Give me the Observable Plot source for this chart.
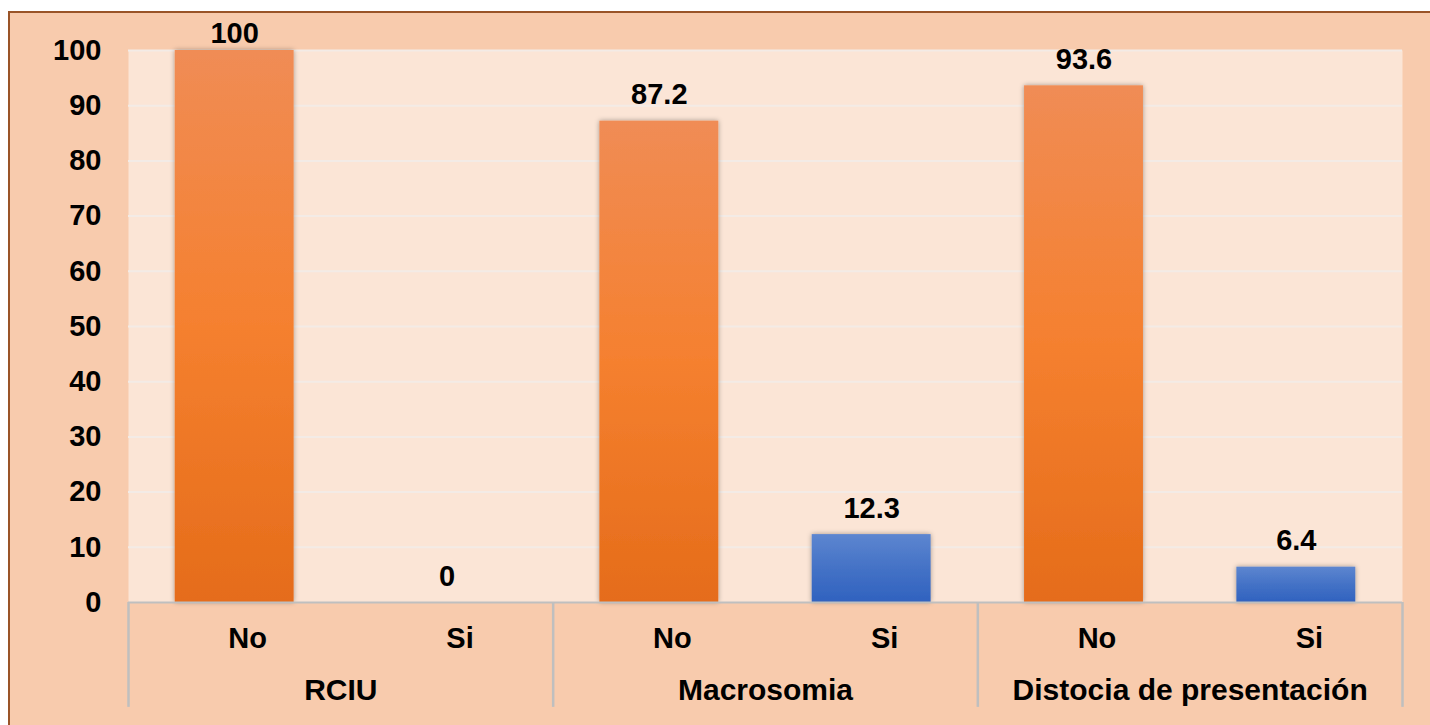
<!DOCTYPE html>
<html>
<head>
<meta charset="utf-8">
<script src="https://cdn.jsdelivr.net/npm/d3@7"></script>
<script src="https://cdn.jsdelivr.net/npm/@observablehq/plot@0.6"></script>
<style>
  html, body { margin: 0; padding: 0; background: #ffffff; width: 1430px; height: 725px; overflow: hidden; }
  #box { position: absolute; left: 8px; top: 11px; width: 1440px; height: 740px; background: #f8cbad; border-top: 2px solid #9a5428; border-left: 2px solid #9a5428; box-sizing: border-box; }
  #chart { position: absolute; left: 0; top: 0; }
</style>
</head>
<body>
<div id="box"></div>
<div id="chart"></div>
<script>
// ---- data ----
const groups = ["RCIU", "Macrosomia", "Distocia de presentación"];
const subs = ["No", "Si"];
const noValues = [100, 87.2, 93.6];
const siValues = [0, 12.3, 6.4];
const yTicks = [0, 10, 20, 30, 40, 50, 60, 70, 80, 90, 100];

const rows = [];
groups.forEach((g, gi) => {
  subs.forEach((s, si) => {
    rows.push({group: g, sub: s, value: si === 0 ? noValues[gi] : siValues[gi], pos: gi * subs.length + si});
  });
});
const noRows = rows.filter(d => d.sub === "No");
const siRows = rows.filter(d => d.sub === "Si");
const boundaries = d3.range(0, rows.length + 1, subs.length);
const font = "'Liberation Sans', Arial, sans-serif";

const plot = Plot.plot({
  width: 1430,
  height: 725,
  marginLeft: 128,
  marginRight: 28,
  marginTop: 50,
  marginBottom: 123,
  style: {background: "transparent", fontFamily: font, fontSize: "29px", fontWeight: "bold", color: "#000"},
  x: {type: "linear", domain: [0, rows.length], axis: null},
  y: {domain: [0, 100], axis: null},
  marks: [
    Plot.frame({fill: "#fbe5d6", stroke: null}),
    Plot.ruleY(yTicks.filter(t => t > 0), {stroke: "#f3ebe6", strokeWidth: 2}),
    Plot.rectY(noRows, {x1: d => d.pos + 0.22, x2: d => d.pos + 0.78, y1: 0, y2: "value", fill: "url(#gNo)"}),
    Plot.rectY(siRows, {x1: d => d.pos + 0.22, x2: d => d.pos + 0.78, y1: 0, y2: "value", fill: "url(#gSi)"}),
    Plot.ruleY([0], {stroke: "#bfbfbf", strokeWidth: 2}),
    Plot.ruleX(boundaries, {x: d => d, y1: 0, y2: -19, stroke: "#bfbfbf", strokeWidth: 2.5}),
    Plot.axisY({ticks: yTicks, tickSize: 0, tickPadding: 27, fontSize: 29, fontWeight: "bold", label: null, tickFormat: d => String(d)}),
    Plot.text(rows.filter(d => d.value < 97), {x: d => d.pos + 0.5, y: "value", text: d => String(d.value), dy: -26, fill: "#000"}),
    Plot.text(rows.filter(d => d.value >= 97), {x: d => d.pos + 0.5, y: "value", text: d => String(d.value), dy: -17, fill: "#000"}),
    Plot.text(rows, {x: d => d.pos + 0.5, y: 0, text: "sub", dx: 13, dy: 36, fill: "#000"}),
    Plot.text(groups, {x: (d, i) => i * subs.length + subs.length / 2, y: 0, text: d => d, dy: 88, fill: "#000", fontSize: 30})
  ]
});

// gradients and shadow
const svg = d3.select(plot);
const defs = svg.insert("defs", ":first-child");
const gNo = defs.append("linearGradient").attr("id", "gNo").attr("x1", 0).attr("y1", 0).attr("x2", 0).attr("y2", 1);
gNo.append("stop").attr("offset", "0%").attr("stop-color", "#f08c55");
gNo.append("stop").attr("offset", "50%").attr("stop-color", "#f5802f");
gNo.append("stop").attr("offset", "100%").attr("stop-color", "#e56c1a");
const gSi = defs.append("linearGradient").attr("id", "gSi").attr("x1", 0).attr("y1", 0).attr("x2", 0).attr("y2", 1);
gSi.append("stop").attr("offset", "0%").attr("stop-color", "#5d86d0");
gSi.append("stop").attr("offset", "50%").attr("stop-color", "#4472c6");
gSi.append("stop").attr("offset", "100%").attr("stop-color", "#3062bf");
const f = defs.append("filter").attr("id", "sh").attr("x", "-20%").attr("y", "-20%").attr("width", "140%").attr("height", "140%");
f.append("feDropShadow").attr("dx", 0).attr("dy", 0).attr("stdDeviation", 2.5).attr("flood-color", "#000").attr("flood-opacity", 0.35);
svg.selectAll("g[aria-label='rect'] rect").attr("filter", "url(#sh)");

document.getElementById("chart").appendChild(plot);
</script>
</body>
</html>
